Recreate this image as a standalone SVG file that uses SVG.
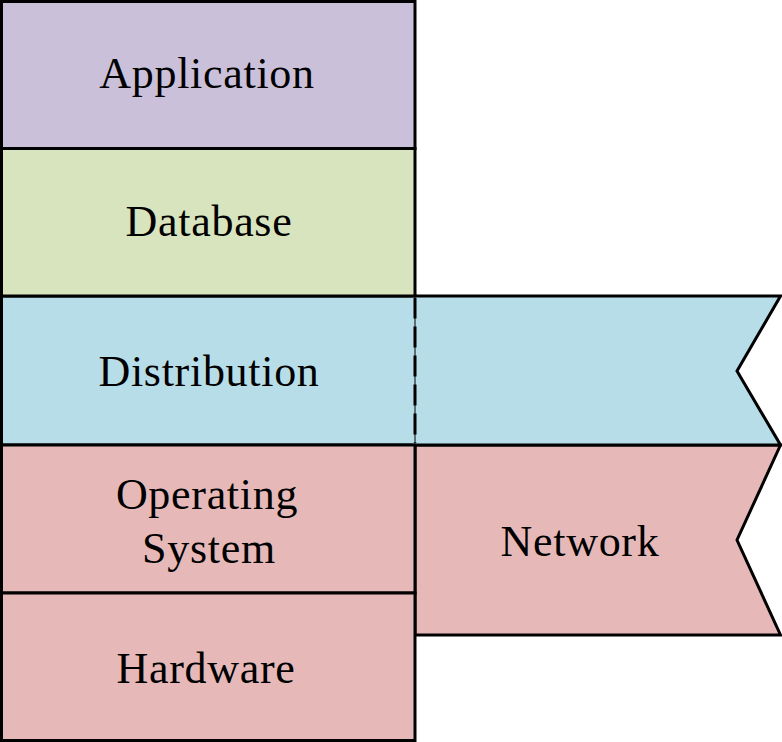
<svg xmlns="http://www.w3.org/2000/svg" width="782" height="742" viewBox="0 0 782 742">
<style>
.box{stroke:#000;stroke-width:3}
.t{font-family:"Liberation Serif","Times New Roman",serif;font-size:44px;fill:#000;text-anchor:middle;letter-spacing:0.7px}
</style>
<rect x="0" y="0" width="782" height="742" fill="#fff"/>
<g id="network">
<path class="box" fill="#E6B9B8" d="M415,445 L780.5,445 L737,540 L780.5,635 L415,635 Z"/>
<text class="t" x="580" y="556">Network</text>
</g>
<g id="distribution">
<rect class="box" x="1.5" y="296" width="413.5" height="149" fill="#B7DDE8"/>
<path class="box" fill="#B7DDE8" d="M415,296 L780.5,296 L737,371 L780.5,445 L415,445"/>
<text class="t" x="209" y="386">Distribution</text>
</g>
<g id="application">
<rect class="box" x="1.5" y="1.5" width="413.5" height="147" fill="#CBC0DA"/>
<text class="t" x="207" y="88">Application</text>
</g>
<g id="database">
<rect class="box" x="1.5" y="148.5" width="413.5" height="147.5" fill="#D7E4BD"/>
<text class="t" x="209" y="236">Database</text>
</g>
<g id="operating-system">
<rect class="box" x="1.5" y="445" width="413.5" height="148" fill="#E6B9B8"/>
<text class="t" x="207" y="509">Operating</text>
<text class="t" x="209" y="563">System</text>
</g>
<g id="hardware">
<rect class="box" x="1.5" y="593" width="413.5" height="147.5" fill="#E6B9B8"/>
<text class="t" x="206" y="683">Hardware</text>
</g>
<g id="connectors">
<line x1="415" y1="297.5" x2="415" y2="443.5" stroke="#B7DDE8" stroke-width="4"/>
<line x1="415" y1="297.5" x2="415" y2="443.5" stroke="#000" stroke-width="1"/>
<line x1="415" y1="297.5" x2="415" y2="443.5" stroke="#000" stroke-width="3" stroke-dasharray="21 8"/>
</g>
</svg>
